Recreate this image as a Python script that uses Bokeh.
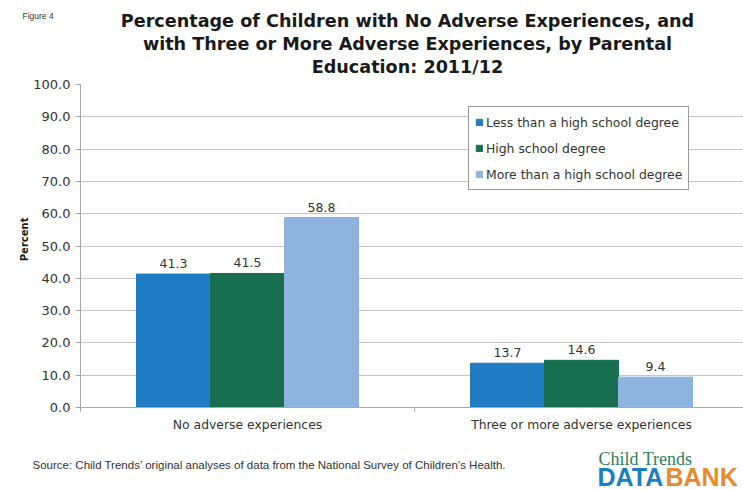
from bokeh.plotting import figure
from bokeh.models import Range1d, FixedTicker, ColumnDataSource, Legend, LegendItem
from bokeh.layouts import column, row
from bokeh.core.properties import value
from bokeh.embed import file_html
from bokeh.resources import INLINE
import math

# ---- data ----
categories = ["No adverse experiences", "Three or more adverse experiences"]
series = ["Less than a high school degree", "High school degree", "More than a high school degree"]
less_than_hs = [41.3, 13.7]
high_school = [41.5, 14.6]
more_than_hs = [58.8, 9.4]
y_ticks = [0, 10, 20, 30, 40, 50, 60, 70, 80, 90, 100]

title_lines = [
    "Percentage of Children with No Adverse Experiences, and",
    "with Three or More Adverse Experiences, by Parental",
    "Education: 2011/12",
]
figure_label = "Figure 4"
y_label = "Percent"
source_text = "Source: Child Trends\u2019 original analyses of data from the National Survey of Children\u2019s Health."

colors = ["#1f7bc2", "#176e50", "#8db3de"]

W, H = 743, 490
TOP_H = 78          # title strip
BOT_H = 45          # footer strip
LEFT_W = 30         # y-label strip
MID_H = H - TOP_H - BOT_H

PL, PT = 50, 6      # main plot borders
frame_top = TOP_H + PT
frame_h = 407 - frame_top
PB = MID_H - PT - frame_h
frame_w = W - LEFT_W - PL
px_per_unit = 334.0
x_end = frame_w / px_per_unit


def strip(w, h):
    f = figure(width=w, height=h, output_backend="svg", toolbar_location=None,
               x_range=Range1d(0, w), y_range=Range1d(h, 0),
               min_border_left=0, min_border_right=0, min_border_top=0, min_border_bottom=0)
    f.axis.visible = False
    f.grid.visible = False
    f.outline_line_color = None
    f.background_fill_color = "white"
    f.border_fill_color = "white"
    return f


# ---- title strip (pixel coordinates inside the strip) ----
top = strip(W, TOP_H)
top.text(x=[407] * 3, y=[20, 43, 66], text=title_lines, text_align="center",
         text_baseline="middle", text_font=value("DejaVu Sans"), text_font_style="bold",
         text_font_size="17.6px", text_color="#1a1a1a")
top.text(x=[22], y=[15], text=[figure_label], text_align="left", text_baseline="middle",
         text_font=value("Liberation Sans"), text_font_size="8.5px", text_color="#333333")

# ---- y label strip ----
left = strip(LEFT_W, MID_H)
left.text(x=[24], y=[254 - TOP_H], text=[y_label], angle=math.pi / 2, text_align="center",
          text_baseline="middle", text_font=value("DejaVu Sans"), text_font_style="bold",
          text_font_size="10px", text_color="#1a1a1a")

# ---- main plot ----
p = figure(width=W - LEFT_W, height=MID_H, output_backend="svg", toolbar_location=None,
           x_range=Range1d(0, x_end), y_range=Range1d(0, 100),
           min_border_left=PL, min_border_right=0, min_border_top=PT, min_border_bottom=PB)
p.outline_line_color = None
p.background_fill_color = "white"
p.border_fill_color = "white"

p.xgrid.visible = False
p.ygrid.ticker = FixedTicker(ticks=y_ticks)
p.ygrid.grid_line_color = "#c4c4c4"
p.ygrid.grid_line_width = 1

p.yaxis.ticker = FixedTicker(ticks=y_ticks)
p.yaxis.major_label_overrides = {t: f"{t:.1f}" for t in y_ticks}
p.yaxis.axis_line_color = "#a8a8a8"
p.yaxis.major_tick_line_color = "#a8a8a8"
p.yaxis.major_tick_out = 5
p.yaxis.major_tick_in = 0
p.yaxis.minor_tick_line_color = None
p.yaxis.major_label_text_font = "DejaVu Sans"
p.yaxis.major_label_text_font_size = "13px"
p.yaxis.major_label_text_color = "#333333"
p.yaxis.major_label_standoff = 5

centers = [i + 0.5 for i in range(len(categories))]
bounds = [float(i) for i in range(len(categories) + 1)]
p.xaxis.ticker = FixedTicker(ticks=centers, minor_ticks=bounds)
p.xaxis.major_label_overrides = {c: cat for c, cat in zip(centers, categories)}
p.xaxis.axis_line_color = "#a8a8a8"
p.xaxis.major_tick_line_color = None
p.xaxis.minor_tick_line_color = "#a8a8a8"
p.xaxis.minor_tick_out = 4
p.xaxis.minor_tick_in = 0
p.xaxis.major_label_text_font = "DejaVu Sans"
p.xaxis.major_label_text_font_size = "12.4px"
p.xaxis.major_label_text_color = "#333333"
p.xaxis.major_label_standoff = 3

bar_w = 74 / px_per_unit
offsets = [-bar_w, 0.0, bar_w]
renderers = []
for vals, off, col in zip([less_than_hs, high_school, more_than_hs], offsets, colors):
    src = ColumnDataSource(dict(x=[c + off for c in centers], top=vals,
                                lbl=[f"{v:.1f}" for v in vals]))
    r = p.vbar(x="x", top="top", width=bar_w, bottom=0, source=src,
               fill_color=col, line_color=col)
    renderers.append(r)
    p.text(x="x", y="top", text="lbl", source=src, text_align="center",
           text_baseline="bottom", y_offset=-6, text_font_size="12.5px",
           text_font=value("DejaVu Sans"), text_color="#333333")

legend = Legend(items=[LegendItem(label=n, renderers=[r]) for n, r in zip(series, renderers)],
                location=(388, 217))
legend.border_line_color = "#333333"
legend.border_line_width = 1.5
legend.background_fill_color = "white"
legend.background_fill_alpha = 1.0
legend.glyph_width = 8
legend.glyph_height = 8
legend.label_standoff = 3
legend.label_text_font = "DejaVu Sans"
legend.label_text_font_size = "12.4px"
legend.label_text_color = "#333333"
legend.label_height = 18
legend.spacing = 8
legend.padding = 6
legend.margin = 0
p.add_layout(legend, "center")

# ---- footer strip ----
bot = strip(W, BOT_H)
y0 = TOP_H + MID_H
bot.text(x=[32], y=[464 - y0], text=[source_text], text_align="left", text_baseline="middle",
         text_font=value("Liberation Sans"), text_font_size="11.5px", text_color="#333333")
bot.text(x=[598], y=[458 - y0], text=["Child Trends"], text_align="left", text_baseline="middle",
         text_font=value("Liberation Serif"), text_font_size="18px", text_color="#2e7f5c")
bot.text(x=[597], y=[490 - y0], text=["DATA"], text_align="left", text_baseline="bottom",
         text_font=value("Liberation Sans"), text_font_style="bold",
         text_font_size="25px", text_color="#1a7fc4")
bot.text(x=[665], y=[490 - y0], text=["BANK"], text_align="left", text_baseline="bottom",
         text_font=value("Liberation Sans"), text_font_style="bold",
         text_font_size="25px", text_color="#e8892b")

layout = column(top, row(left, p, spacing=0), bot, spacing=0)

open("out.html", "w").write(file_html(layout, INLINE))
